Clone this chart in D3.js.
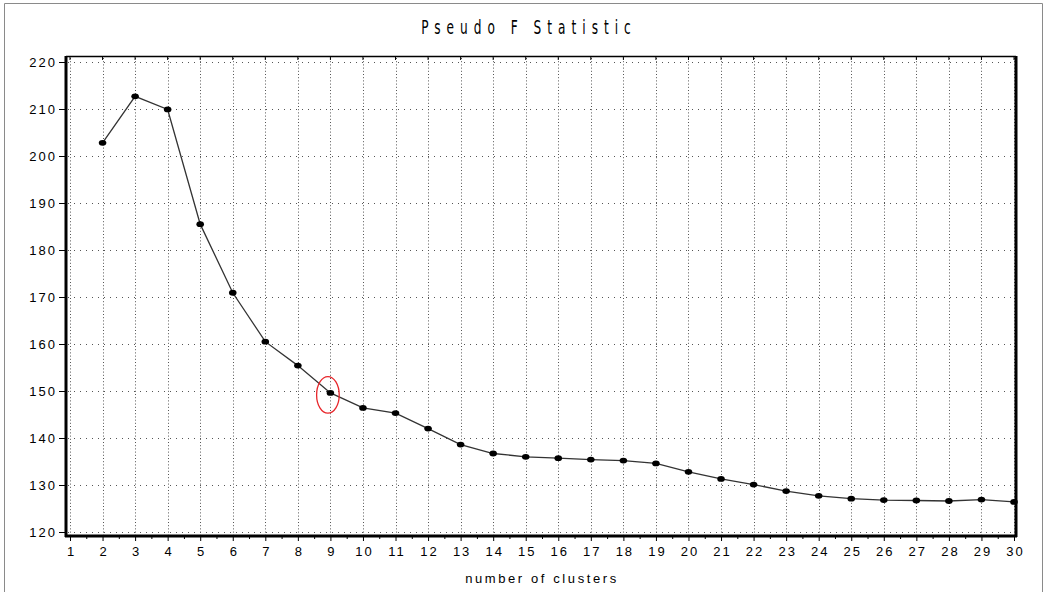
<!DOCTYPE html>
<html>
<head>
<meta charset="utf-8">
<script src="https://cdn.jsdelivr.net/npm/d3@7"></script>
<style>
  body { margin: 0; background: #fff; }
  svg text { font-family: "Liberation Sans", Arial, sans-serif; fill: #000; }
</style>
</head>
<body>
<div id="chart"></div>
<script>
// number of clusters and pseudo F values
var clusters = [2, 3, 4, 5, 6, 7, 8, 9, 10, 11, 12, 13, 14, 15, 16,
                17, 18, 19, 20, 21, 22, 23, 24, 25, 26, 27, 28, 29, 30];
var pseudoF = [202.8, 212.7, 209.9, 185.5, 170.9, 160.5, 155.4, 149.6, 146.4, 145.3,
               142.0, 138.6, 136.7, 136.0, 135.7, 135.4, 135.2, 134.6, 132.8, 131.3,
               130.1, 128.7, 127.7, 127.1, 126.8, 126.7, 126.6, 126.9, 126.4];
var xTicks = d3.range(1, 31);
var yTicks = d3.range(120, 221, 10);
var highlight = 9;   // circled point

var W = 1046, H = 592;
var plot = {left: 66, right: 1016, top: 56, bottom: 536};

var svg = d3.select("#chart").append("svg")
    .attr("width", W)
    .attr("height", H);

// outer frame (image is cropped at the bottom)
svg.append("path")
    .attr("d", "M4.5," + H + "V3.5H1042.5V" + H)
    .attr("fill", "none")
    .attr("stroke", "#8a8a8a")
    .attr("stroke-width", 1);

var x = d3.scaleLinear().domain([1, 30]).range([70, 1014]);
var y = d3.scaleLinear().domain([120, 220]).range([532, 62]);

// grid
svg.append("g").selectAll("line")
    .data(xTicks)
    .enter().append("line")
    .attr("x1", function(d) { return Math.round(x(d)) + 0.5; })
    .attr("x2", function(d) { return Math.round(x(d)) + 0.5; })
    .attr("y1", plot.top + 2)
    .attr("y2", plot.bottom - 1)
    .attr("stroke", "#555")
    .attr("stroke-width", 1)
    .attr("stroke-dasharray", "1,2.2");

svg.append("g").selectAll("line")
    .data(yTicks)
    .enter().append("line")
    .attr("x1", plot.left + 2)
    .attr("x2", plot.right - 1)
    .attr("y1", function(d) { return Math.round(y(d)) + 0.5; })
    .attr("y2", function(d) { return Math.round(y(d)) + 0.5; })
    .attr("stroke", "#555")
    .attr("stroke-width", 1)
    .attr("stroke-dasharray", "1,5");

// y axis
var yAxis = d3.axisLeft(y)
    .tickValues(yTicks)
    .tickSize(6)
    .tickPadding(2);
var gy = svg.append("g")
    .attr("transform", "translate(" + (plot.left - 1) + ",0)")
    .call(yAxis);
gy.select(".domain").remove();
gy.selectAll("line").attr("stroke", "#000");
gy.selectAll("text")
    .style("font-size", "13px")
    .style("letter-spacing", "2px")
    .attr("dy", "0.36em");

// x axis: major ticks on integers, minor on halves
var gxMinor = svg.append("g")
    .attr("transform", "translate(0," + plot.bottom + ")")
    .call(d3.axisBottom(x).tickValues(d3.range(1.5, 30, 1)).tickSize(3).tickFormat(""));
gxMinor.select(".domain").remove();
gxMinor.selectAll("line").attr("stroke", "#000");

var gx = svg.append("g")
    .attr("transform", "translate(0," + plot.bottom + ")")
    .call(d3.axisBottom(x).tickValues(xTicks).tickSize(5).tickPadding(6).tickFormat(d3.format("d")));
gx.select(".domain").remove();
gx.selectAll("line").attr("stroke", "#000");
gx.selectAll("text")
    .style("font-size", "13px")
    .style("letter-spacing", "2px")
    .attr("dx", "1px");

// inward ticks along the top border
svg.append("g").selectAll("line")
    .data(xTicks)
    .enter().append("line")
    .attr("x1", function(d) { return x(d); })
    .attr("x2", function(d) { return x(d); })
    .attr("y1", plot.top)
    .attr("y2", plot.top + 4)
    .attr("stroke", "#000");

// plot frame
svg.append("line").attr("x1", plot.left).attr("x2", plot.right)
    .attr("y1", plot.top + 0.5).attr("y2", plot.top + 0.5)
    .attr("stroke", "#000").attr("stroke-width", 1.5);
svg.append("line").attr("x1", plot.left).attr("x2", plot.left)
    .attr("y1", plot.top).attr("y2", plot.bottom + 1)
    .attr("stroke", "#000").attr("stroke-width", 3);
svg.append("line").attr("x1", plot.right).attr("x2", plot.right)
    .attr("y1", plot.top).attr("y2", plot.bottom + 1)
    .attr("stroke", "#000").attr("stroke-width", 3);
svg.append("line").attr("x1", plot.left - 1).attr("x2", plot.right + 1)
    .attr("y1", plot.bottom).attr("y2", plot.bottom)
    .attr("stroke", "#000").attr("stroke-width", 3);

// series
var line = d3.line()
    .x(function(d, i) { return x(clusters[i]); })
    .y(function(d) { return y(d); });

svg.append("path")
    .datum(pseudoF)
    .attr("d", line)
    .attr("fill", "none")
    .attr("stroke", "#333")
    .attr("stroke-width", 1.3);

svg.append("g").selectAll("ellipse")
    .data(pseudoF)
    .enter().append("ellipse")
    .attr("cx", function(d, i) { return x(clusters[i]); })
    .attr("cy", function(d) { return y(d); })
    .attr("rx", 3.8)
    .attr("ry", 2.9)
    .attr("fill", "#000");

// red ring round the chosen solution
var hi = clusters.indexOf(highlight);
svg.append("ellipse")
    .attr("cx", x(highlight) - 2.5)
    .attr("cy", y(pseudoF[hi]) + 2)
    .attr("rx", 11.3)
    .attr("ry", 18.3)
    .attr("fill", "none")
    .attr("stroke", "#e8262b")
    .attr("stroke-width", 1.3);

// titles
svg.append("text")
    .attr("x", 529)
    .attr("y", 34)
    .attr("text-anchor", "middle")
    .style("font-family", "'DejaVu Sans Condensed', 'Liberation Sans Narrow', sans-serif")
    .style("font-size", "18px")
    .style("letter-spacing", "8px")
    .attr("transform", "translate(529,34) scale(0.75,1.1) translate(-529,-34)")
    .text("Pseudo F Statistic");

svg.append("text")
    .attr("x", 542)
    .attr("y", 583)
    .attr("text-anchor", "middle")
    .style("font-size", "13px")
    .style("letter-spacing", "2.6px")
    .text("number of clusters");
</script>
</body>
</html>
